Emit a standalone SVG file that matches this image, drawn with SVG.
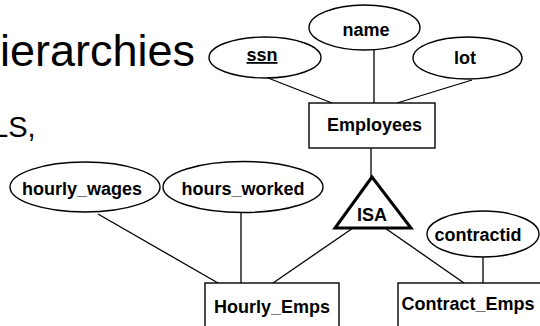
<svg xmlns="http://www.w3.org/2000/svg" width="540" height="326" viewBox="0 0 540 326">
  <style>
    .title { font-family: "Liberation Sans", Arial, sans-serif; fill: #000; }
    .lbl { font-family: "Liberation Sans", Arial, sans-serif; font-weight: bold; font-size: 18px; fill: #000; text-anchor: middle; }
    .shape { fill: #fff; stroke: #000; stroke-width: 1.4; }
    .edge { stroke: #000; stroke-width: 1.3; fill: none; }
    .isa { fill: #fff; stroke: #000; stroke-width: 3; stroke-linejoin: miter; }
  </style>
  <rect width="540" height="326" fill="#fff"/>

  <!-- slide text running in from the left edge -->
  <text class="title" x="0" y="66" font-size="45">ierarchies</text>
  <text class="title" x="-8" y="137" font-size="29">LS,</text>

  <!-- connectors -->
  <g id="connectors">
    <line class="edge" x1="268" y1="78" x2="332" y2="103"/>
    <line class="edge" x1="374" y1="50" x2="374" y2="103"/>
    <line class="edge" x1="472" y1="80" x2="397" y2="103"/>
    <line class="edge" x1="371" y1="148" x2="371" y2="177"/>
    <line class="edge" x1="353" y1="228" x2="273" y2="283"/>
    <line class="edge" x1="385" y1="228" x2="464" y2="283"/>
    <line class="edge" x1="483" y1="257" x2="483" y2="283"/>
    <line class="edge" x1="98" y1="214" x2="218" y2="283"/>
    <line class="edge" x1="241" y1="213" x2="241" y2="283"/>
  </g>

  <g id="ssn">
    <ellipse class="shape" cx="265" cy="57.5" rx="56" ry="20.5"/>
    <text class="lbl" x="262" y="61" text-decoration="underline">ssn</text>
  </g>
  <g id="name">
    <ellipse class="shape" cx="364.5" cy="27.5" rx="55.5" ry="22.5"/>
    <text class="lbl" x="366" y="36">name</text>
  </g>
  <g id="lot">
    <ellipse class="shape" cx="467.5" cy="58" rx="54.5" ry="21"/>
    <text class="lbl" x="465" y="64">lot</text>
  </g>
  <g id="employees">
    <rect class="shape" x="309" y="103" width="126" height="45"/>
    <text class="lbl" x="374.5" y="131">Employees</text>
  </g>
  <g id="isa">
    <polygon class="isa" points="372,177 335,228 411,228"/>
    <text class="lbl" x="372" y="221">ISA</text>
  </g>
  <g id="hourly_wages">
    <ellipse class="shape" cx="85" cy="187" rx="75" ry="25"/>
    <text class="lbl" x="82" y="195">hourly_wages</text>
  </g>
  <g id="hours_worked">
    <ellipse class="shape" cx="243" cy="187" rx="80" ry="25.5"/>
    <text class="lbl" x="243" y="195">hours_worked</text>
  </g>
  <g id="contractid">
    <ellipse class="shape" cx="483" cy="234" rx="56" ry="23"/>
    <text class="lbl" x="478" y="241">contractid</text>
  </g>
  <g id="hourly_emps">
    <rect class="shape" x="205" y="283" width="134" height="60"/>
    <text class="lbl" x="272" y="313">Hourly_Emps</text>
  </g>
  <g id="contract_emps">
    <rect class="shape" x="398" y="283" width="160" height="60"/>
    <text class="lbl" x="468" y="310">Contract_Emps</text>
  </g>
</svg>
